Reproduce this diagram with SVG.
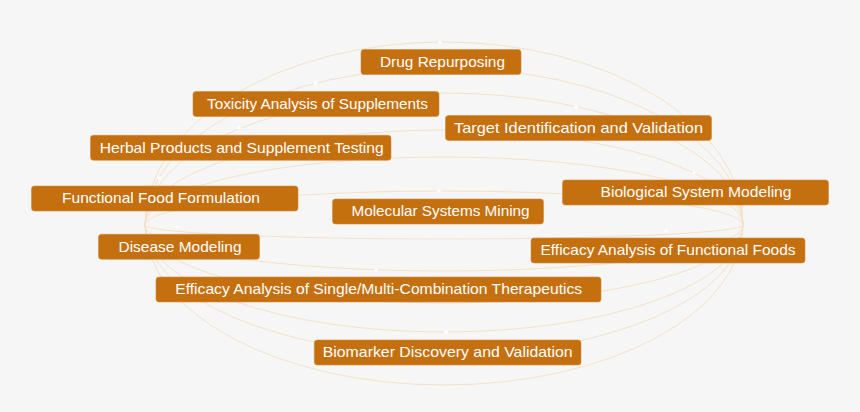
<svg xmlns="http://www.w3.org/2000/svg" width="860" height="412" viewBox="0 0 860 412">
<style>
.bg{fill:#f6f6f6}
.mer{fill:none;stroke:#f4e0c9;stroke-width:1}
.dot{fill:#ffffff}
.box{fill:#c5700f;stroke:#d48a3e;stroke-width:0.6}
.lbl{font-family:"Liberation Sans",Arial,sans-serif;font-size:15px;fill:#ffffff;text-anchor:middle}
</style>
<rect class="bg" x="0" y="0" width="860" height="412"/>
<g id="connectors">
<path class="mer" d="M145,225 A299,183 0 0 1 743,225 A299,160 0 0 1 145,225"/>
<path class="mer" d="M145,225 A299,157 0 0 1 743,225 A299,130 0 0 1 145,225"/>
<path class="mer" d="M145,225 A299,132 0 0 1 743,225 A299,107 0 0 1 145,225"/>
<path class="mer" d="M145,225 A299,95 0 0 1 743,225 A299,78 0 0 1 145,225"/>
<path class="mer" d="M145,225 A299,68 0 0 1 743,225 A299,46 0 0 1 145,225"/>
<path class="mer" d="M145,225 A299,34 0 0 1 743,225 A299,14 0 0 1 145,225"/>
<circle class="dot" cx="440" cy="42.5" r="1.8"/>
<circle class="dot" cx="315.5" cy="83" r="1.8"/>
<circle class="dot" cx="239" cy="128" r="1.8"/>
<circle class="dot" cx="576" cy="107" r="1.8"/>
<circle class="dot" cx="694" cy="173" r="1.8"/>
<circle class="dot" cx="159" cy="178" r="1.8"/>
<circle class="dot" cx="439" cy="191" r="1.8"/>
<circle class="dot" cx="177" cy="227" r="1.8"/>
<circle class="dot" cx="666" cy="231" r="1.8"/>
<circle class="dot" cx="376" cy="270" r="1.8"/>
<circle class="dot" cx="446" cy="332" r="1.8"/>
</g>
<g id="n1"><rect class="box" x="361" y="49.5" width="160" height="25" rx="3"/><text class="lbl" x="442.5" y="67.3" textLength="125" lengthAdjust="spacingAndGlyphs">Drug Repurposing</text></g>
<g id="n2"><rect class="box" x="193" y="91.5" width="246" height="25" rx="3"/><text class="lbl" x="317.5" y="108.8" textLength="221" lengthAdjust="spacingAndGlyphs">Toxicity Analysis of Supplements</text></g>
<g id="n3"><rect class="box" x="445.5" y="115.5" width="266" height="25" rx="3"/><text class="lbl" x="578.5" y="132.8" textLength="249" lengthAdjust="spacingAndGlyphs">Target Identification and Validation</text></g>
<g id="n4"><rect class="box" x="90.5" y="135.3" width="300.5" height="25" rx="3"/><text class="lbl" x="241.7" y="152.8" textLength="284" lengthAdjust="spacingAndGlyphs">Herbal Products and Supplement Testing</text></g>
<g id="n5"><rect class="box" x="31.5" y="186" width="266.5" height="25" rx="3"/><text class="lbl" x="161" y="203.3" textLength="198" lengthAdjust="spacingAndGlyphs">Functional Food Formulation</text></g>
<g id="n6"><rect class="box" x="332.5" y="199" width="211" height="25" rx="3"/><text class="lbl" x="440.5" y="216.3" textLength="178" lengthAdjust="spacingAndGlyphs">Molecular Systems Mining</text></g>
<g id="n7"><rect class="box" x="562.5" y="180" width="266" height="25" rx="3"/><text class="lbl" x="696" y="197.3" textLength="191" lengthAdjust="spacingAndGlyphs">Biological System Modeling</text></g>
<g id="n8"><rect class="box" x="98.5" y="234.3" width="161" height="25" rx="3"/><text class="lbl" x="180" y="251.6" textLength="123" lengthAdjust="spacingAndGlyphs">Disease Modeling</text></g>
<g id="n9"><rect class="box" x="531" y="238" width="274" height="25" rx="3"/><text class="lbl" x="668" y="255.3" textLength="255" lengthAdjust="spacingAndGlyphs">Efficacy Analysis of Functional Foods</text></g>
<g id="n10"><rect class="box" x="156" y="277" width="445" height="25" rx="3"/><text class="lbl" x="378.7" y="294.3" textLength="407" lengthAdjust="spacingAndGlyphs">Efficacy Analysis of Single/Multi-Combination Therapeutics</text></g>
<g id="n11"><rect class="box" x="314.3" y="340" width="266.7" height="25" rx="3"/><text class="lbl" x="447.7" y="357.3" textLength="250" lengthAdjust="spacingAndGlyphs">Biomarker Discovery and Validation</text></g>
</svg>
